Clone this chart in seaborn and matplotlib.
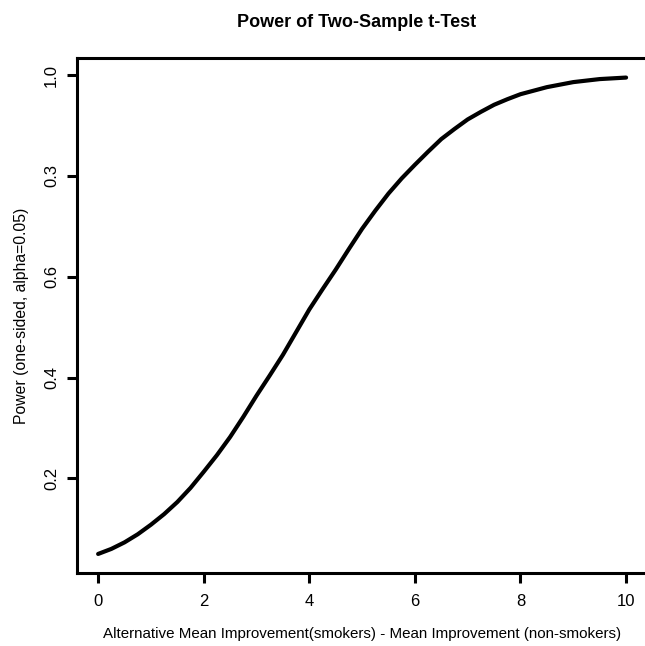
import numpy as np
import seaborn as sns
import matplotlib.pyplot as plt

# power curve
diff = [0, 0.25, 0.5, 0.75, 1, 1.25, 1.5, 1.75, 2, 2.25, 2.5, 2.75, 3, 3.25, 3.5, 3.75,
        4, 4.25, 4.5, 4.75, 5, 5.25, 5.5, 5.75, 6, 6.25, 6.5, 6.75, 7, 7.25, 7.5,
        7.75, 8, 8.5, 9, 9.5, 10]
power = [0.050, 0.060, 0.073, 0.089, 0.108, 0.129, 0.153, 0.181, 0.213, 0.246, 0.282,
         0.322, 0.364, 0.404, 0.445, 0.490, 0.535, 0.575, 0.614, 0.655, 0.695,
         0.731, 0.765, 0.795, 0.822, 0.848, 0.873, 0.893, 0.912, 0.927, 0.941,
         0.952, 0.962, 0.976, 0.986, 0.992, 0.995]

x_ticks = [0, 2, 4, 6, 8, 10]
y_ticks = [0.2, 0.4, 0.6, 0.8, 1.0]
y_tick_labels = ["0.2", "0.4", "0.6", "0.3", "1.0"]

sns.set_theme(style="ticks")
plt.rcParams['font.family'] = ['Liberation Sans', 'DejaVu Sans']

fig = plt.figure(figsize=(6.45, 6.46), dpi=100)
ax = fig.add_axes([0.1194, 0.1130, 0.884, 0.7972])

sns.lineplot(x=diff, y=power, ax=ax, color='black', linewidth=3.0)

ax.set_xlim(-0.4, 10.4)
ax.set_ylim(0.0122, 1.0338)

ax.set_xticks(x_ticks)
ax.set_xticklabels([str(t) for t in x_ticks], fontsize=12)
ax.set_yticks(y_ticks)
ax.set_yticklabels(y_tick_labels, fontsize=12, rotation=90, va='center')

for s in ax.spines.values():
    s.set_linewidth(2.2)
    s.set_color('black')
ax.tick_params(axis='both', length=7, width=2.2, color='black', labelcolor='black')
ax.tick_params(axis='x', pad=8)
ax.tick_params(axis='y', pad=6)

ax.set_xlabel('Alternative Mean Improvement(smokers) - Mean Improvement (non-smokers)',
              fontsize=10.9, labelpad=13, color='black')
ax.set_ylabel('Power (one-sided, alpha=0.05)', fontsize=11.3, labelpad=11, color='black')
ax.set_title('Power of Two-Sample t-Test', fontsize=13, fontweight='bold', pad=22,
             x=0.49, color='black')

plt.savefig('out.png', dpi=100)
